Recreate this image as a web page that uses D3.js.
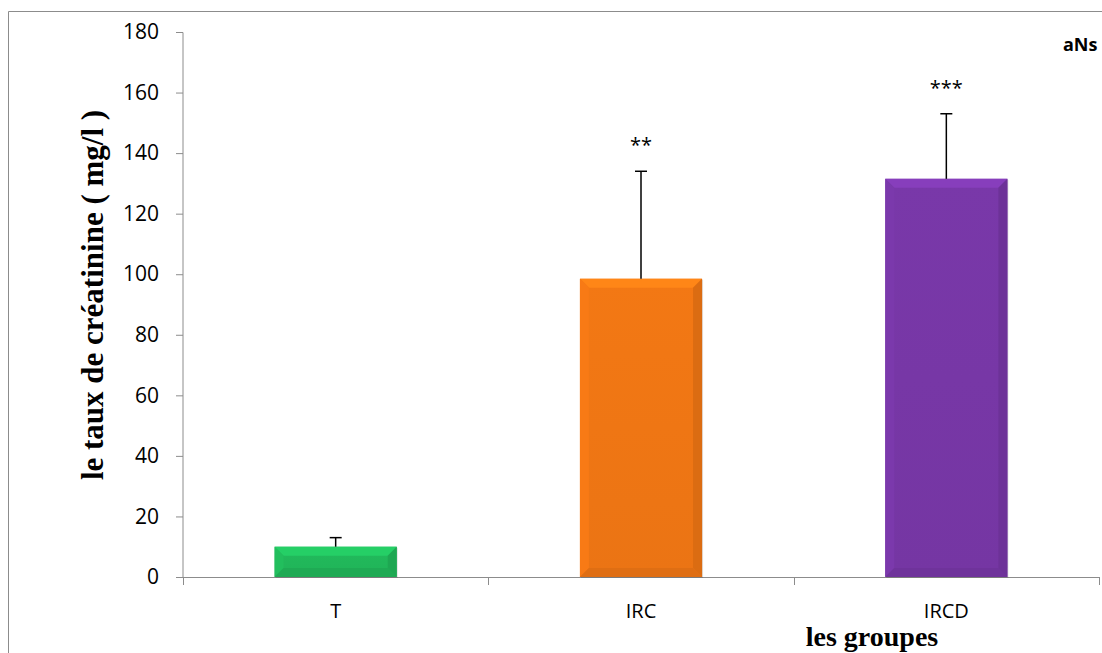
<!DOCTYPE html>
<html>
<head>
<meta charset="utf-8">
<script src="https://cdn.jsdelivr.net/npm/d3@7"></script>
<style>
  body { margin: 0; background: #fff; }
  svg { display: block; }
</style>
</head>
<body>
<script>
// data
var groups = ["T", "IRC", "IRCD"];
var means = [10, 98.5, 131.5];
var errors = [3, 35.5, 21.5];
var stars = ["", "**", "***"];
var yTicks = [0, 20, 40, 60, 80, 100, 120, 140, 160, 180];
var colors = ["#21b75a", "#ef7614", "#7737a6"];

var width = 1102, height = 653;
var svg = d3.select("body").append("svg")
  .attr("width", width)
  .attr("height", height);

// outer frame (chart area border, cut off at right/bottom)
svg.append("path")
  .attr("d", "M8.5," + height + "V11.5H" + width)
  .attr("fill", "none")
  .attr("stroke", "#8c8c8c")
  .attr("stroke-width", 1);

var x0 = 183, x1 = 1099, yTop = 32, yBot = 577;

var x = d3.scaleBand()
  .domain(groups)
  .range([x0, x1])
  .paddingInner(0.6)
  .paddingOuter(0.3);

var y = d3.scaleLinear()
  .domain([0, 180])
  .range([yBot, yTop]);

var sans = "'Open Sans', 'Noto Sans', sans-serif";
var serif = "'Liberation Serif', 'Times New Roman', serif";

// y axis
var yAxis = d3.axisLeft(y).tickValues(yTicks).tickSize(7).tickPadding(17);
var gy = svg.append("g")
  .attr("transform", "translate(" + x0 + ",0)")
  .call(yAxis);
gy.select(".domain").attr("stroke", "#8c8c8c").attr("d", "M-7," + y(180) + ".5H0V" + yBot);
gy.selectAll(".tick line").attr("stroke", "#8c8c8c");
gy.selectAll(".tick text")
  .attr("fill", "#000")
  .style("font-family", sans)
  .style("font-size", "21px");

// x axis line + ticks at band boundaries
var gx = svg.append("g");
gx.append("line")
  .attr("x1", x0).attr("x2", x1)
  .attr("y1", yBot + 0.5).attr("y2", yBot + 0.5)
  .attr("stroke", "#8c8c8c");
var bounds = [x0, x0 + (x1 - x0) / 3, x0 + 2 * (x1 - x0) / 3, x1];
gx.selectAll(".xt").data(bounds).enter().append("line")
  .attr("class", "xt")
  .attr("x1", function(d){ return Math.round(d) + 0.5; })
  .attr("x2", function(d){ return Math.round(d) + 0.5; })
  .attr("y1", yBot).attr("y2", yBot + 8)
  .attr("stroke", "#8c8c8c");
gx.selectAll(".xl").data(groups).enter().append("text")
  .attr("class", "xl")
  .attr("x", function(d){ return x(d) + x.bandwidth() / 2; })
  .attr("y", 618)
  .attr("text-anchor", "middle")
  .style("font-family", sans)
  .style("font-size", "20px")
  .text(function(d){ return d; });

// gradients for bevel effect
var defs = svg.append("defs");
colors.forEach(function(c, i) {
  var g = defs.append("linearGradient")
    .attr("id", "grad" + i)
    .attr("x1", 0).attr("y1", 0).attr("x2", 0).attr("y2", 1);
  g.append("stop").attr("offset", "0%").attr("stop-color", d3.color(c).brighter(0.05));
  g.append("stop").attr("offset", "100%").attr("stop-color", d3.color(c).darker(0.05));
});

var bev = 9;
var bars = svg.selectAll(".bar").data(groups).enter().append("g").attr("class", "bar");

bars.each(function(d, i) {
  var g = d3.select(this);
  var bx = x(d), bw = x.bandwidth();
  var by = y(means[i]), bh = yBot - by;
  var c = d3.color(colors[i]);
  var b = Math.min(bev, bh / 2);
  // shadow
  g.append("rect")
    .attr("x", bx + 1).attr("y", by + 1)
    .attr("width", bw).attr("height", bh)
    .attr("fill", "#000").attr("opacity", 0.12);
  g.append("rect")
    .attr("x", bx).attr("y", by)
    .attr("width", bw).attr("height", bh)
    .attr("fill", "url(#grad" + i + ")");
  // top bevel
  g.append("path")
    .attr("d", "M" + bx + "," + by + "H" + (bx + bw) + "L" + (bx + bw - b) + "," + (by + b) + "H" + (bx + b) + "Z")
    .attr("fill", c.brighter(0.35));
  // left bevel
  g.append("path")
    .attr("d", "M" + bx + "," + by + "L" + (bx + b) + "," + (by + b) + "V" + (by + bh - b) + "L" + bx + "," + (by + bh) + "Z")
    .attr("fill", c.brighter(0.1));
  // right bevel
  g.append("path")
    .attr("d", "M" + (bx + bw) + "," + by + "L" + (bx + bw - b) + "," + (by + b) + "V" + (by + bh - b) + "L" + (bx + bw) + "," + (by + bh) + "Z")
    .attr("fill", c.darker(0.25));
  // bottom bevel
  g.append("path")
    .attr("d", "M" + bx + "," + (by + bh) + "L" + (bx + b) + "," + (by + bh - b) + "H" + (bx + bw - b) + "L" + (bx + bw) + "," + (by + bh) + "Z")
    .attr("fill", c.darker(0.2));
});

// error bars (upper only)
var err = svg.selectAll(".err").data(groups).enter().append("g").attr("class", "err")
  .attr("stroke", "#000").attr("stroke-width", 1.5);
err.append("line")
  .attr("x1", function(d){ return x(d) + x.bandwidth() / 2; })
  .attr("x2", function(d){ return x(d) + x.bandwidth() / 2; })
  .attr("y1", function(d, i){ return y(means[i]); })
  .attr("y2", function(d, i){ return y(means[i] + errors[i]); });
err.append("line")
  .attr("x1", function(d){ return x(d) + x.bandwidth() / 2 - 6; })
  .attr("x2", function(d){ return x(d) + x.bandwidth() / 2 + 6; })
  .attr("y1", function(d, i){ return y(means[i] + errors[i]); })
  .attr("y2", function(d, i){ return y(means[i] + errors[i]); });

// significance stars
svg.selectAll(".star").data(groups).enter().append("text")
  .attr("class", "star")
  .attr("x", function(d){ return x(d) + x.bandwidth() / 2; })
  .attr("y", function(d, i){ return y(means[i] + errors[i]) - 19; })
  .attr("text-anchor", "middle")
  .style("font-family", sans)
  .style("font-size", "20px")
  .text(function(d, i){ return stars[i]; });

// "aNs" label
svg.append("text")
  .attr("x", 1063).attr("y", 51)
  .style("font-family", sans)
  .style("font-size", "18px")
  .style("font-weight", "bold")
  .text("aNs");

// axis titles
svg.append("text")
  .attr("transform", "translate(103,295) rotate(-90)")
  .attr("text-anchor", "middle")
  .style("font-family", serif)
  .style("font-size", "31px")
  .style("font-weight", "bold")
  .text("le taux de créatinine ( mg/l )");

svg.append("text")
  .attr("x", 872).attr("y", 646)
  .attr("text-anchor", "middle")
  .style("font-family", serif)
  .style("font-size", "28px")
  .style("font-weight", "bold")
  .text("les groupes");
</script>
</body>
</html>
